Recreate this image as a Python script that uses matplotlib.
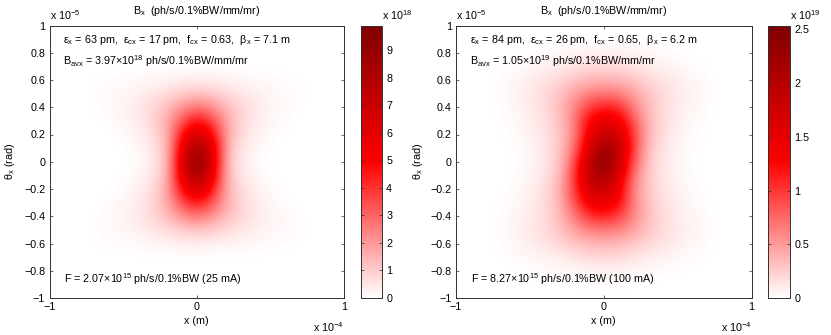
#!/usr/bin/env python3
"""Horizontal phase space brightness maps for two undulator cases."""

import numpy as np
import matplotlib
matplotlib.use('Agg')
import matplotlib.pyplot as plt
from matplotlib.colors import LinearSegmentedColormap

plt.rcParams['font.family'] = ['Liberation Sans', 'DejaVu Sans']
plt.rcParams['mathtext.fontset'] = 'custom'
plt.rcParams['mathtext.rm'] = 'Liberation Sans'
plt.rcParams['mathtext.it'] = 'Liberation Sans'
plt.rcParams['mathtext.bf'] = 'Liberation Sans'

FS = 7.75
W, H = 831, 335

grid_x = [-0.8, -0.7, -0.6, -0.5, -0.4, -0.3, -0.2, -0.1, 0, 0.1, 0.2, 0.3, 0.4, 0.5, 0.6, 0.7, 0.8]
grid_theta = [0.9, 0.8, 0.7, 0.6, 0.5, 0.4, 0.3, 0.2, 0.1, 0, -0.1, -0.2, -0.3, -0.4, -0.5, -0.6, -0.7, -0.8, -0.9]

# units of 1e18
left_values = [
    [0, 0, 0, 0, 0, 0, 0, 0, 0, 0, 0, 0, 0, 0, 0, 0, 0],
    [0, 0, 0, 0, 0, 0, 0, 0, 0, 0, 0, 0, 0, 0, 0, 0, 0],
    [0, .01, .015, .02, .03, .03, .03, .04, .04, .04, .03, .03, .03, .02, .015, .01, 0],
    [.005, .05, .08, .11, .15, .2, .25, .32, .36, .33, .26, .2, .15, .11, .08, .05, .005],
    [.01, .07, .13, .2, .32, .5, .72, 1.0, 1.2, 1.02, .73, .5, .32, .2, .13, .07, .01],
    [.01, .05, .14, .25, .45, .8, 1.3, 2.1, 2.7, 2.2, 1.35, .82, .45, .25, .14, .05, .01],
    [0, .02, .08, .2, .4, .8, 1.6, 3.4, 4.7, 3.6, 1.7, .82, .4, .2, .08, .02, 0],
    [0, 0, .03, .12, .3, .65, 1.55, 4.7, 6.9, 5.0, 1.75, .67, .3, .12, .03, 0, 0],
    [0, 0, .01, .05, .18, .5, 1.35, 5.9, 8.6, 6.2, 1.5, .52, .2, .05, .01, 0, 0],
    [0, 0, 0, .03, .1, .42, 1.25, 6.5, 9.8, 6.5, 1.25, .42, .1, .03, 0, 0, 0],
    [0, 0, .01, .05, .2, .52, 1.5, 6.2, 8.6, 5.9, 1.35, .5, .18, .05, .01, 0, 0],
    [0, 0, .03, .12, .3, .67, 1.75, 5.0, 6.9, 4.7, 1.55, .65, .3, .12, .03, 0, 0],
    [0, .02, .08, .2, .4, .82, 1.7, 3.6, 4.7, 3.4, 1.6, .8, .4, .2, .08, .02, 0],
    [.01, .05, .14, .25, .45, .82, 1.35, 2.2, 2.7, 2.1, 1.3, .8, .45, .25, .14, .05, .01],
    [.01, .07, .13, .2, .32, .5, .73, 1.02, 1.2, 1.0, .72, .5, .32, .2, .13, .07, .01],
    [.005, .05, .08, .11, .15, .2, .26, .33, .36, .32, .25, .2, .15, .11, .08, .05, .005],
    [0, .01, .015, .02, .03, .03, .03, .04, .04, .04, .03, .03, .03, .02, .015, .01, 0],
    [0, 0, 0, 0, 0, 0, 0, 0, 0, 0, 0, 0, 0, 0, 0, 0, 0],
    [0, 0, 0, 0, 0, 0, 0, 0, 0, 0, 0, 0, 0, 0, 0, 0, 0],
]

# units of 1e19
right_values = [
    [0, 0, .001, .002, .004, .006, .008, .01, .012, .01, .008, .006, .004, .002, .001, 0, 0],
    [0, .003, .008, .016, .025, .035, .05, .065, .07, .065, .05, .035, .025, .016, .008, .003, 0],
    [.003, .01, .025, .045, .07, .1, .14, .19, .2, .19, .14, .1, .07, .045, .025, .01, .003],
    [.004, .02, .05, .1, .14, .2, .3, .36, .38, .36, .3, .2, .14, .1, .05, .02, .004],
    [.004, .025, .06, .11, .18, .3, .47, .62, .68, .63, .48, .3, .18, .11, .06, .025, .004],
    [.003, .02, .05, .1, .18, .33, .6, .97, 1.12, 1.05, .64, .34, .18, .1, .05, .02, .003],
    [.002, .015, .04, .09, .16, .3, .62, 1.3, 1.52, 1.42, .85, .36, .18, .09, .04, .015, .002],
    [0, .008, .025, .07, .14, .28, .6, 1.42, 1.82, 1.72, .97, .36, .17, .07, .025, .008, 0],
    [0, .005, .018, .055, .12, .27, .68, 1.65, 2.22, 1.95, .95, .32, .14, .055, .018, .005, 0],
    [0, 0, .014, .045, .12, .28, .85, 1.85, 2.48, 1.85, .85, .28, .12, .045, .014, 0, 0],
    [0, .005, .018, .055, .14, .32, .95, 1.95, 2.22, 1.65, .68, .27, .12, .055, .018, .005, 0],
    [0, .008, .025, .07, .17, .36, .97, 1.72, 1.82, 1.42, .6, .28, .14, .07, .025, .008, 0],
    [.002, .015, .04, .09, .18, .36, .85, 1.42, 1.52, 1.3, .62, .3, .16, .09, .04, .015, .002],
    [.003, .02, .05, .1, .18, .34, .64, 1.05, 1.12, .97, .6, .33, .18, .1, .05, .02, .003],
    [.004, .025, .06, .11, .18, .3, .48, .63, .68, .62, .47, .3, .18, .11, .06, .025, .004],
    [.004, .02, .05, .1, .14, .2, .3, .36, .38, .36, .3, .2, .14, .1, .05, .02, .004],
    [.003, .01, .025, .045, .07, .1, .14, .19, .2, .19, .14, .1, .07, .045, .025, .01, .003],
    [0, .003, .008, .016, .025, .035, .05, .065, .07, .065, .05, .035, .025, .016, .008, .003, 0],
    [0, 0, .001, .002, .004, .006, .008, .01, .012, .01, .008, .006, .004, .002, .001, 0, 0],
]

x_ticks = [-1, 0, 1]
x_ticklabels = ['\u22121', '0', '1']
y_ticks = [1, 0.8, 0.6, 0.4, 0.2, 0, -0.2, -0.4, -0.6, -0.8, -1]
y_ticklabels = ['1', '0.8', '0.6', '0.4', '0.2', '0', '\u22120.2', '\u22120.4', '\u22120.6', '\u22120.8', '\u22121']

left_cbar_ticks = [0, 1, 2, 3, 4, 5, 6, 7, 8, 9]
left_cbar_labels = ['0', '1', '2', '3', '4', '5', '6', '7', '8', '9']
right_cbar_ticks = [0, 0.5, 1, 1.5, 2, 2.5]
right_cbar_labels = ['0', '0.5', '1', '1.5', '2', '2.5']

left_vmax = 9.9
right_vmax = 2.537

title = r'$\mathregular{B_x}$  (ph/s/0.1%BW/mm/mr)'
left_notes = [
    r'$\mathregular{\epsilon_x}$ = 63 pm,  $\mathregular{\epsilon_{cx}}$ = 17 pm,  $\mathregular{f_{cx}}$ = 0.63,  $\mathregular{\beta_x}$ = 7.1 m',
    r'$\mathregular{B_{avx}}$ = 3.97$\mathregular{\times 10^{18}}$ ph/s/0.1%BW/mm/mr',
    r'F = 2.07$\mathregular{\times 10^{15}}$ ph/s/0.1%BW (25 mA)',
]
right_notes = [
    r'$\mathregular{\epsilon_x}$ = 84 pm,  $\mathregular{\epsilon_{cx}}$ = 26 pm,  $\mathregular{f_{cx}}$ = 0.65,  $\mathregular{\beta_x}$ = 6.2 m',
    r'$\mathregular{B_{avx}}$ = 1.05$\mathregular{\times 10^{19}}$ ph/s/0.1%BW/mm/mr',
    r'F = 8.27$\mathregular{\times 10^{15}}$ ph/s/0.1%BW (100 mA)',
]

cmap = LinearSegmentedColormap.from_list(
    'whitered', [(0, '#ffffff'), (0.5, '#ff0000'), (1, '#800000')])


def px_box(x0, y0, x1, y1):
    """Axes rectangle from pixel corners (origin top left)."""
    return [x0 / W, 1 - y1 / H, (x1 - x0) / W, (y1 - y0) / H]


def draw_panel(fig, box, cbar_box, values, vmax, notes, cbar_ticks, cbar_labels, cbar_exp, ylabel_x):
    ax = fig.add_axes(px_box(*box))
    dx = (grid_x[1] - grid_x[0]) / 2
    dy = (grid_theta[0] - grid_theta[1]) / 2
    im = ax.imshow(np.array(values), cmap=cmap, vmin=0, vmax=vmax, aspect='auto',
                   interpolation='bicubic', interpolation_stage='data',
                   extent=[grid_x[0] - dx, grid_x[-1] + dx, grid_theta[-1] - dy, grid_theta[0] + dy])
    ax.set_xlim(-1, 1)
    ax.set_ylim(-1, 1)
    ax.set_xticks(x_ticks, x_ticklabels)
    ax.set_yticks(y_ticks, y_ticklabels)
    ax.tick_params(direction='in', top=True, right=True, length=2.5, width=0.5,
                   labelsize=FS, color='#303030', pad=3)
    for spine in ax.spines.values():
        spine.set_linewidth(0.7)
        spine.set_color('#303030')

    ax.set_xlabel('x (m)', fontsize=FS, labelpad=2.5)
    fig.text(ylabel_x / W, 1 - 161.5 / H, r'$\mathregular{\theta_x}$ (rad)', fontsize=FS,
             rotation=90, ha='center', va='center')
    ax.set_title(title, fontsize=FS, pad=8.5)

    ax.text(0, 1.012, r'x $\mathregular{10^{-5}}$', transform=ax.transAxes, fontsize=FS, va='bottom')
    ax.text(1, -0.08, r'x $\mathregular{10^{-4}}$', transform=ax.transAxes, fontsize=FS, ha='right', va='top')

    ax.text(-0.908, 0.893, notes[0], fontsize=FS, va='center')
    ax.text(-0.908, 0.74, notes[1], fontsize=FS, va='center')
    ax.text(-0.9, -0.86, notes[2], fontsize=FS, va='center')

    cax = fig.add_axes(px_box(*cbar_box))
    cbar = fig.colorbar(im, cax=cax)
    cbar.set_ticks(cbar_ticks, labels=cbar_labels)
    cbar.ax.tick_params(direction='in', left=True, right=True, length=2.5, width=0.5,
                        labelsize=FS, color='#303030', pad=3)
    cbar.outline.set_linewidth(0.7)
    cbar.outline.set_edgecolor('#303030')
    cax.text(1.0, 1.012, cbar_exp, transform=cax.transAxes, fontsize=FS, ha='left', va='bottom')


fig = plt.figure(figsize=(W / 100, H / 100), dpi=100)

draw_panel(fig, (49.5, 25.5, 344, 298), (360.5, 25.5, 382, 298), left_values, left_vmax,
           left_notes, left_cbar_ticks, left_cbar_labels, r'x $\mathregular{10^{18}}$', 10)
draw_panel(fig, (456, 25.5, 751.5, 298), (768, 25.5, 790, 298), right_values, right_vmax,
           right_notes, right_cbar_ticks, right_cbar_labels, r'x $\mathregular{10^{19}}$', 418)

fig.savefig('out.png', dpi=100)
